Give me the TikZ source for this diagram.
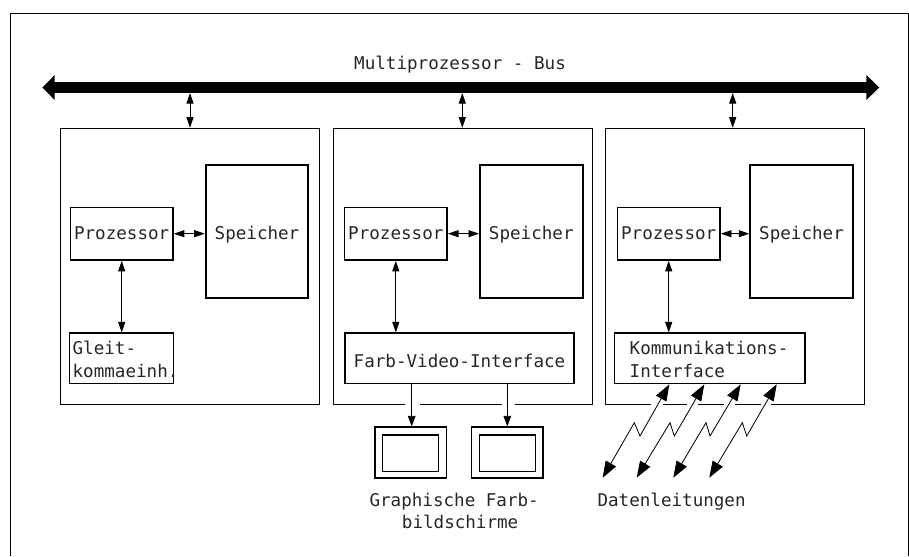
\documentclass[tikz,border=0pt]{standalone}
\usepackage{fontspec}
\setmainfont{DejaVu Sans Mono}
\usetikzlibrary{arrows.meta}
\tikzset{
  modul/.style={draw, line width=0.7pt, minimum width=7.77cm, minimum height=8.3cm, inner sep=0pt},
  cpubox/.style={draw, line width=1.4pt, minimum width=3.08cm, minimum height=1.58cm, inner sep=0pt, text height=11pt, text depth=0.4pt},
  membox/.style={draw, line width=1.5pt, minimum width=3.08cm, minimum height=4cm, inner sep=0pt, text height=14pt, text depth=0pt},
  iobox/.style={draw, line width=1.1pt, minimum height=1.51cm, inner sep=0pt},
  screenbox/.style={draw, line width=1pt, minimum width=2.15cm, minimum height=1.53cm},
  screenin/.style={draw, line width=1pt, minimum width=1.68cm, minimum height=1.1cm},
  schrift/.style={inner sep=0pt, anchor=base west},
  busline/.style={line width=10pt, {Triangle[length=10.5pt,width=20.5pt]}-{Triangle[length=11pt,width=20.5pt]}},
  twoway/.style={line width=0.7pt, {Triangle[length=9pt,width=6pt]}-{Triangle[length=9pt,width=6pt]}},
  oneway/.style={line width=0.7pt, -{Triangle[length=9pt,width=6.5pt]}},
  linkline/.style={line width=0.7pt, {Triangle[length=14pt,width=10pt]}-{Triangle[length=14pt,width=10pt]}},
  gapline/.style={white, line width=2pt}
}
\begin{document}
\begin{tikzpicture}[x=0.03cm, y=-0.03cm, font=\fontsize{15pt}{19.6pt}\selectfont, text=black!85]
\useasboundingbox (0,0) rectangle (909,556);
\draw[line width=0.7pt] (10,556) -- (10,13.5) -- (908,13.5) -- (908,556);

% bus
\node[schrift] (bustext) at (354,69.3) {Multiprozessor - Bus};
\coordinate (busleft) at (42.3,87.5);
\coordinate (busright) at (879.3,87.5);
\draw[busline] (busleft) -- (busright);

% modules
\node[modul] (mod1) at (189.7,266.5) {};
\node[modul] (mod2) at (463,266.5) {};
\node[modul] (mod3) at (734.5,266.5) {};
\coordinate (tap1) at (190,93);
\coordinate (tap2) at (462.3,93);
\coordinate (tap3) at (732.7,93);
\draw[twoway] (tap1) -- (tap1 |- mod1.north);
\draw[twoway] (tap2) -- (tap2 |- mod2.north);
\draw[twoway] (tap3) -- (tap3 |- mod3.north);

% first module
\node[cpubox] (proz1) at (121.7,233.7) {Prozessor};
\node[membox] (spei1) at (257,231.7) {Speicher};
\node[iobox, minimum width=3.08cm, inner xsep=2.5pt, align=left, text width=2.93cm, text height=11pt, text depth=17.8pt] (gleit) at (121.5,358.3) {Gleit-\\kommaeinh.};
\draw[twoway] (proz1.east) -- (proz1.east -| spei1.west);
\draw[twoway] (proz1.south) -- (proz1.south |- gleit.north);

% second module
\node[cpubox] (proz2) at (395.8,233.7) {Prozessor};
\node[membox] (spei2) at (531.3,231.7) {Speicher};
\node[iobox, minimum width=6.87cm, text height=16pt, text depth=0pt] (video) at (459.5,358.3) {Farb-Video-Interface};
\draw[twoway] (proz2.east) -- (proz2.east -| spei2.west);
\draw[twoway] (proz2.south) -- (proz2.south |- video.north);
\node[screenbox] (screen1) at (410.8,452.5) {};
\node[screenin] (inner1) at (410.3,453.3) {};
\node[screenbox] (screen2) at (507.2,452.5) {};
\node[screenin] (inner2) at (507.8,453.3) {};
\draw[gapline] (405,405) -- (420,405);
\draw[gapline] (501.7,405) -- (515,405);
\coordinate (out1) at (411.7,383.5);
\coordinate (out2) at (507.3,383.5);
\draw[oneway] (out1) -- (out1 |- screen1.north);
\draw[oneway] (out2) -- (out2 |- screen2.north);
\node[schrift] (screentext1) at (369.3,506) {Graphische Farb-};
\node[schrift] (screentext2) at (401.7,528.3) {bildschirme};

% third module
\node[cpubox] (proz3) at (668.7,233.7) {Prozessor};
\node[membox] (spei3) at (801.5,231.7) {Speicher};
\node[iobox, minimum width=5.53cm, inner xsep=13pt, align=left, text width=4.8cm, text height=11pt, text depth=17.8pt] (komm) at (709.7,358.3) {Kommunikations-\\Interface};
\draw[twoway] (proz3.east) -- (proz3.east -| spei3.west);
\draw[twoway] (proz3.south) -- (proz3.south |- komm.north);
\draw[gapline] (650.7,405) -- (663.3,405);
\draw[gapline] (687.3,405) -- (698.3,405);
\draw[gapline] (724,405) -- (735.3,405);
\draw[gapline] (760.7,405) -- (770.7,405);
\coordinate (link1) at (669.3,384.3);
\coordinate (link2) at (704.3,384.3);
\coordinate (link3) at (740.7,384.3);
\coordinate (link4) at (776.7,384.3);
\coordinate (end1) at (602.7,477.7);
\coordinate (end2) at (636.7,477.7);
\coordinate (end3) at (673.3,477.7);
\coordinate (end4) at (709.3,477.7);
\draw[linkline] (link1) -- (640,436) -- (634.3,422.7) -- (end1);
\draw[linkline] (link2) -- (674.3,436) -- (670,422.7) -- (end2);
\draw[linkline] (link3) -- (710,436) -- (706,422.7) -- (end3);
\draw[linkline] (link4) -- (746.7,436) -- (742.3,422.7) -- (end4);
\node[schrift] (linktext) at (597.3,506.7) {Datenleitungen};
\end{tikzpicture}
\end{document}
